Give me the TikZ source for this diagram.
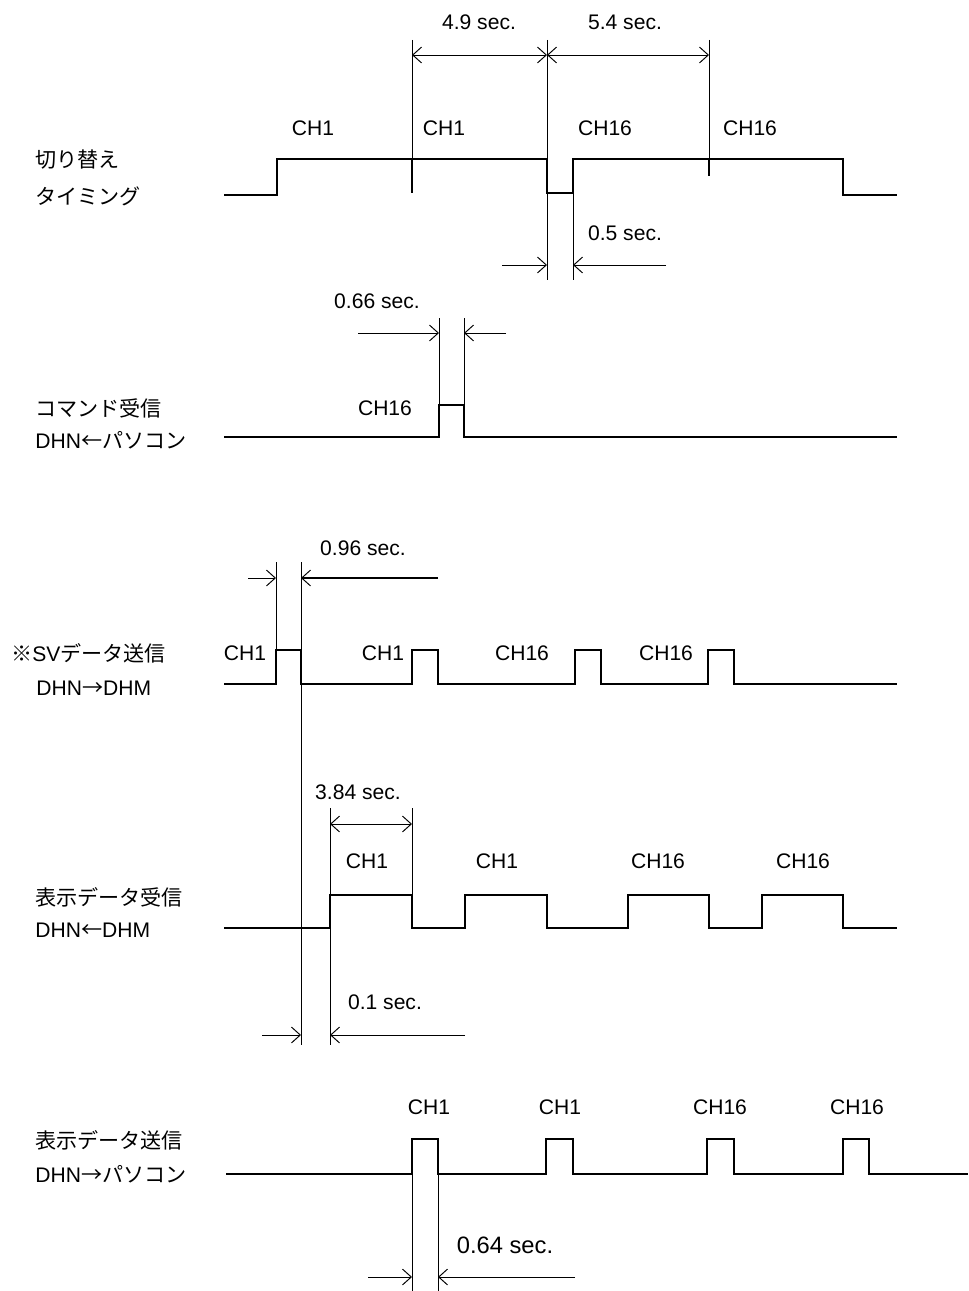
\documentclass[tikz,border=0pt]{standalone}
\usepackage{fontspec}
\setmainfont{Liberation Sans}
\newfontfamily\jp{Noto Sans CJK JP}
\usetikzlibrary{arrows.meta}
\tikzset{
  sig/.style={line width=1.4pt, line join=miter},
  thinl/.style={line width=0.55pt},
  dim/.style={line width=0.55pt},
  tip/.tip={Straight Barb[length=5pt,width=9pt,line width=0.55pt]},
  lbl/.style={font=\fontsize{12}{14}\selectfont, inner sep=0pt},
  side/.style={lbl, anchor=west},
}
\begin{document}
\begin{tikzpicture}[x=0.02cm,y=-0.02cm]
\useasboundingbox (0,0) rectangle (968,1291);
% ===== Signal 1 =====
\node[side] (s1a) at (35,160) {\jp 切り替え};
\node[side] (s1b) at (35,196) {\jp タイミング};
\draw[sig] (224,195) -- (277,195) -- (277,159) -- (547,159) -- (547,193) -- (573,193) -- (573,159) -- (843,159) -- (843,195) -- (897,195);
\draw[sig] (412,159) -- (412,193);
\draw[sig] (709,159) -- (709,176);
\draw[thinl] (412,40) -- (412,159);
\draw[thinl] (547,40) -- (547,280);
\draw[thinl] (709,40) -- (709,159);
\draw[thinl] (573,193) -- (573,280);
\draw[dim,tip-tip] (412,55) -- (547,55);
\draw[dim,tip-tip] (547,55) -- (709,55);
\node[lbl] (d49) at (479,22) {4.9 sec.};
\node[lbl] (d54) at (625,22) {5.4 sec.};
\node[lbl] (c1a) at (313,128) {CH1};
\node[lbl] (c1b) at (444,128) {CH1};
\node[lbl] (c1c) at (605,128) {CH16};
\node[lbl] (c1d) at (750,128) {CH16};
\draw[dim,-tip] (502,265) -- (547,265);
\draw[dim,-tip] (666,265) -- (573,265);
\node[lbl] (d05) at (625,233) {0.5 sec.};
% ===== Signal 2 =====
\node[side] (s2a) at (35,408) {\jp コマンド受信};
\node[side] (s2b) at (35,440) {DHN{\jp ←パソコン}};
\draw[sig] (224,437) -- (439,437) -- (439,405) -- (464,405) -- (464,437) -- (897,437);
\draw[thinl] (439,318) -- (439,405);
\draw[thinl] (464,318) -- (464,405);
\draw[dim,-tip] (358,333) -- (439,333);
\draw[dim,-tip] (506,333) -- (464,333);
\node[lbl] (d066) at (377,301) {0.66 sec.};
\node[lbl] (c2) at (385,408) {CH16};
% ===== Signal 3 =====
\node[side] (s3a) at (11,653) {\jp ※{\rmfamily SV}データ送信};
\node[side] (s3b) at (36,688) {DHN{\jp →}DHM};
\draw[sig] (224,684) -- (276,684) -- (276,650) -- (301,650) -- (301,684) -- (412,684) -- (412,650) -- (438,650) -- (438,684) -- (575,684) -- (575,650) -- (601,650) -- (601,684) -- (708,684) -- (708,650) -- (734,650) -- (734,684) -- (897,684);
\draw[thinl] (276,562) -- (276,650);
\draw[thinl] (301,562) -- (301,1045);
\draw[dim,-tip] (248,578) -- (276,578);
\draw[dim,-tip] (438,578) -- (301,578);
\draw[line width=1.1pt] (301,578) -- (438,578);
\node[lbl] (d096) at (363,548) {0.96 sec.};
\node[lbl] (c3a) at (245,653) {CH1};
\node[lbl] (c3b) at (383,653) {CH1};
\node[lbl] (c3c) at (522,653) {CH16};
\node[lbl] (c3d) at (666,653) {CH16};
% ===== Signal 4 =====
\node[side] (s4a) at (35,897) {\jp 表示データ受信};
\node[side] (s4b) at (35,930) {DHN{\jp ←}DHM};
\draw[sig] (224,928) -- (330,928) -- (330,895) -- (412,895) -- (412,928) -- (465,928) -- (465,895) -- (547,895) -- (547,928) -- (628,928) -- (628,895) -- (709,895) -- (709,928) -- (762,928) -- (762,895) -- (843,895) -- (843,928) -- (897,928);
\draw[thinl] (330,808) -- (330,1045);
\draw[thinl] (412,808) -- (412,895);
\draw[dim,tip-tip] (330,824) -- (412,824);
\node[lbl] (d384) at (358,792) {3.84 sec.};
\draw[dim,-tip] (262,1035) -- (301,1035);
\draw[dim,-tip] (465,1035) -- (330,1035);
\node[lbl] (d01) at (385,1002) {0.1 sec.};
\node[lbl] (c4a) at (367,861) {CH1};
\node[lbl] (c4b) at (497,861) {CH1};
\node[lbl] (c4c) at (658,861) {CH16};
\node[lbl] (c4d) at (803,861) {CH16};
% ===== Signal 5 =====
\node[side] (s5a) at (35,1140) {\jp 表示データ送信};
\node[side] (s5b) at (35,1174) {DHN{\jp →パソコン}};
\draw[sig] (226,1174) -- (412,1174) -- (412,1139) -- (438,1139) -- (438,1174) -- (546,1174) -- (546,1139) -- (573,1139) -- (573,1174) -- (707,1174) -- (707,1139) -- (734,1139) -- (734,1174) -- (843,1174) -- (843,1139) -- (869,1139) -- (869,1174) -- (968,1174);
\draw[thinl] (412,1174) -- (412,1291);
\draw[thinl] (438,1174) -- (438,1291);
\draw[dim,-tip] (368,1277) -- (412,1277);
\draw[dim,-tip] (575,1277) -- (438,1277);
\node[lbl,font=\fontsize{13.5}{16}\selectfont] (d064) at (505,1245) {0.64 sec.};
\node[lbl] (c5a) at (429,1107) {CH1};
\node[lbl] (c5b) at (560,1107) {CH1};
\node[lbl] (c5c) at (720,1107) {CH16};
\node[lbl] (c5d) at (857,1107) {CH16};
\end{tikzpicture}
\end{document}
